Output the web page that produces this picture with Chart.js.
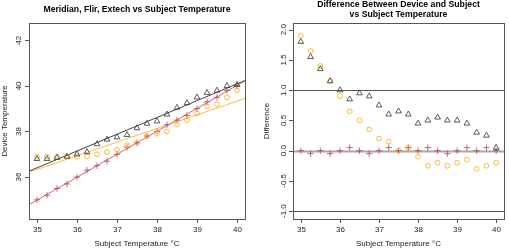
<!DOCTYPE html>
<html>
<head>
<meta charset="utf-8">
<script src="https://cdn.jsdelivr.net/npm/chart.js@4.4.1/dist/chart.umd.min.js"></script>
<style>
  html, body { margin: 0; padding: 0; background: #fff; }
  #wrap { position: relative; width: 509px; height: 249px; }
  #left { position: absolute; left: 0; top: 0; }
  #right { position: absolute; left: 254px; top: 0; }
</style>
</head>
<body>
<div id="wrap">
  <canvas id="left" width="254" height="249"></canvas>
  <canvas id="right" width="255" height="249"></canvas>
</div>
<script>
// subject temperature (x) for every reading
var subject = [35, 35.25, 35.5, 35.75, 36, 36.25, 36.5, 36.75, 37, 37.25, 37.5,
               37.75, 38, 38.25, 38.5, 38.75, 39, 39.25, 39.5, 39.75, 40];

// device readings (left panel)
var meridian = [36.8, 36.8, 36.85, 36.9, 37.0, 37.1, 37.45, 37.65, 37.75, 37.85, 38.15,
                38.35, 38.45, 38.75, 39.05, 39.25, 39.5, 39.7, 39.8, 40.0, 40.05];
var flir = [36.9, 36.9, 36.9, 36.9, 36.9, 36.9, 37.0, 37.1, 37.2, 37.4, 37.5,
            37.8, 37.9, 38.0, 38.3, 38.5, 38.8, 39.1, 39.2, 39.5, 39.8];
var extech = [35.0, 35.2, 35.5, 35.7, 36.0, 36.3, 36.5, 36.7, 37.0, 37.3, 37.5,
              37.8, 38.0, 38.3, 38.5, 38.7, 39.0, 39.3, 39.5, 39.8, 40.0];

// device minus subject (right panel)
var meridianDiff = [1.8, 1.55, 1.35, 1.15, 1.0, 0.85, 0.95, 0.9, 0.75, 0.6, 0.65,
                    0.6, 0.45, 0.5, 0.55, 0.5, 0.5, 0.45, 0.3, 0.25, 0.05];
var flirDiff = [1.9, 1.65, 1.4, 1.15, 0.9, 0.65, 0.5, 0.35, 0.2, 0.15, 0.0,
                0.05, -0.1, -0.25, -0.2, -0.25, -0.2, -0.15, -0.3, -0.25, -0.2];
var extechDiff = [0, -0.05, 0, -0.05, 0, 0.05, 0, -0.05, 0, 0.05, 0,
                  0.05, 0, 0.05, 0, -0.05, 0, 0.05, 0, 0.05, 0];

var xTicks = [35, 36, 37, 38, 39, 40];
var leftYTicks = [36, 38, 40, 42];
var rightYTicks = [-1.0, -0.5, 0.0, 0.5, 1.0, 1.5, 2.0];
var refLines = [1, 0, -1];

var FONT = "'Liberation Sans', Arial, sans-serif";
var colBlack = "#333333";
var colOrange = "rgba(255,168,20,0.8)";
var colRed = "rgba(175,45,60,0.7)";

function pts(xs, ys) {
    return xs.map(function (x, i) { return { x: x, y: ys[i] }; });
}

// least squares fit, returned as a line over [x0, x1]
function fitLine(xs, ys, x0, x1) {
    var n = xs.length, mx = 0, my = 0, sxy = 0, sxx = 0;
    for (var i = 0; i < n; i++) { mx += xs[i]; my += ys[i]; }
    mx /= n; my /= n;
    for (var j = 0; j < n; j++) {
        sxy += (xs[j] - mx) * (ys[j] - my);
        sxx += (xs[j] - mx) * (xs[j] - mx);
    }
    var b = sxy / sxx, a = my - b * mx;
    return [{ x: x0, y: a + b * x0 }, { x: x1, y: a + b * x1 }];
}

// base-R style frame, ticks and labels
function rAxes(opts) {
    return {
        id: "rAxes",
        beforeDatasetsDraw: function (chart) {
            if (!opts.refLines) return;
            var c = chart.ctx, a = chart.chartArea, y = chart.scales.y;
            c.save();
            opts.refLines.forEach(function (v) {
                var py = Math.round(y.getPixelForValue(v)) + 0.5;
                c.strokeStyle = v === 0 ? "#a8a8a8" : "#555";
                c.lineWidth = v === 0 ? 2.2 : 1;
                c.beginPath(); c.moveTo(a.left, py); c.lineTo(a.right, py); c.stroke();
            });
            c.restore();
        },
        afterDraw: function (chart) {
            var c = chart.ctx, a = chart.chartArea;
            var xs = chart.scales.x, ys = chart.scales.y;
            c.save();
            c.strokeStyle = "#555";
            c.lineWidth = 1;
            c.strokeRect(Math.round(a.left) + 0.5, Math.round(a.top) + 0.5,
                         Math.round(a.right - a.left), Math.round(a.bottom - a.top));
            c.fillStyle = "#222";
            c.font = "8px " + FONT;
            c.textAlign = "center";
            c.textBaseline = "middle";
            // x axis
            c.beginPath();
            opts.xTicks.forEach(function (v) {
                var px = Math.round(xs.getPixelForValue(v)) + 0.5;
                c.moveTo(px, a.bottom); c.lineTo(px, a.bottom + 4);
                c.fillText(String(v), px, a.bottom + 11);
            });
            c.stroke();
            // y axis
            c.beginPath();
            opts.yTicks.forEach(function (v) {
                var py = Math.round(ys.getPixelForValue(v)) + 0.5;
                c.moveTo(a.left, py); c.lineTo(a.left - 4, py);
            });
            c.stroke();
            opts.yTicks.forEach(function (v) {
                var py = ys.getPixelForValue(v);
                c.save();
                c.translate(a.left - opts.yLabelGap, py);
                c.rotate(-Math.PI / 2);
                c.fillText(opts.yFmt(v), 0, 0);
                c.restore();
            });
            // axis titles
            var cx = (a.left + a.right) / 2, cy = (a.top + a.bottom) / 2;
            c.fillText(opts.xTitle, cx, a.bottom + 25);
            c.save();
            c.translate(opts.yTitleX, cy);
            c.rotate(-Math.PI / 2);
            c.fillText(opts.yTitle, 0, 0);
            c.restore();
            // main title
            c.fillStyle = "#000";
            c.font = "bold 8.7px " + FONT;
            opts.title.forEach(function (t, i) {
                c.fillText(t, cx, opts.titleY + i * 9.6);
            });
            c.restore();
        }
    };
}

function baseOptions(xMin, xMax, yMin, yMax, pad) {
    return {
        responsive: false,
        animation: false,
        layout: { padding: pad },
        plugins: { legend: { display: false }, tooltip: { enabled: false } },
        scales: {
            x: { type: "linear", min: xMin, max: xMax, display: false },
            y: { type: "linear", min: yMin, max: yMax, display: false }
        }
    };
}

var xMin = 34.8, xMax = 40.2;

// Device vs Subject
var ctxL = document.getElementById("left").getContext("2d");
var chartL = new Chart(ctxL, {
    type: "scatter",
    data: {
        datasets: [
            { data: pts(subject, meridian), pointStyle: "triangle", pointRadius: 3.3,
              borderColor: colBlack, backgroundColor: "transparent", borderWidth: 0.8 },
            { data: pts(subject, flir), pointStyle: "circle", pointRadius: 2.4,
              borderColor: colOrange, backgroundColor: "transparent", borderWidth: 1 },
            { data: pts(subject, extech), pointStyle: "cross", pointRadius: 3.2,
              borderColor: colRed, backgroundColor: "transparent", borderWidth: 1 },
            { data: fitLine(subject, meridian, xMin, xMax), showLine: true, pointRadius: 0,
              borderColor: "#444", borderWidth: 1 },
            { data: fitLine(subject, flir, xMin, xMax), showLine: true, pointRadius: 0,
              borderColor: colOrange, borderWidth: 1 },
            { data: fitLine(subject, extech, xMin, xMax), showLine: true, pointRadius: 0,
              borderColor: colRed, borderWidth: 1 }
        ]
    },
    options: baseOptions(xMin, xMax, 34.16, 42.76, { left: 29, right: 9, top: 23, bottom: 30 }),
    plugins: [rAxes({
        xTicks: xTicks, yTicks: leftYTicks, yLabelGap: 10.5,
        yFmt: function (v) { return String(v); },
        xTitle: "Subject Temperature °C", yTitle: "Device Temperature", yTitleX: 4.5,
        title: ["Meridian, Flir, Extech vs Subject Temperature"], titleY: 9.5
    })]
});

// Difference vs Subject
var ctxR = document.getElementById("right").getContext("2d");
var chartR = new Chart(ctxR, {
    type: "scatter",
    data: {
        datasets: [
            { data: pts(subject, meridianDiff), pointStyle: "triangle", pointRadius: 3.3,
              borderColor: colBlack, backgroundColor: "transparent", borderWidth: 0.8 },
            { data: pts(subject, flirDiff), pointStyle: "circle", pointRadius: 2.4,
              borderColor: colOrange, backgroundColor: "transparent", borderWidth: 1 },
            { data: pts(subject, extechDiff), pointStyle: "cross", pointRadius: 3.2,
              borderColor: colRed, backgroundColor: "transparent", borderWidth: 1 }
        ]
    },
    options: baseOptions(xMin, xMax, -1.13, 2.11, { left: 39, right: 2, top: 23, bottom: 30 }),
    plugins: [rAxes({
        xTicks: xTicks, yTicks: rightYTicks, yLabelGap: 9.5, refLines: refLines,
        yFmt: function (v) { return v.toFixed(1); },
        xTitle: "Subject Temperature °C", yTitle: "Difference", yTitleX: 13,
        title: ["Difference Between Device and Subject", "vs Subject Temperature"], titleY: 5
    })]
});
</script>
</body>
</html>
